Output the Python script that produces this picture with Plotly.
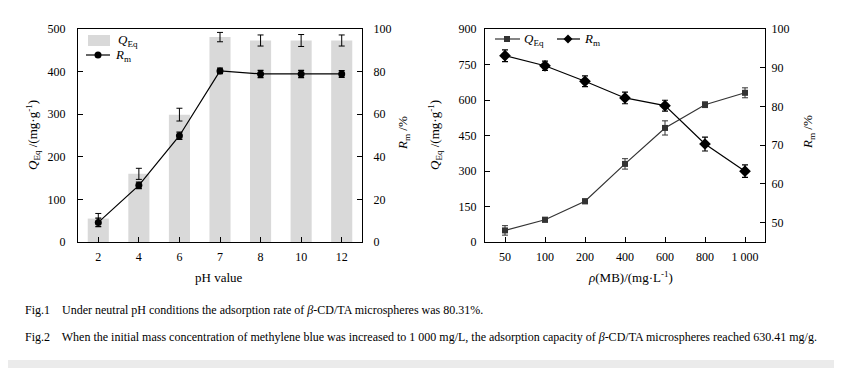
import plotly.graph_objects as go

# ---------------- data ----------------
ph_labels = ["2", "4", "6", "7", "8", "10", "12"]
q_ph = [55, 160, 299, 481, 473, 473, 473]
q_ph_err = [12, 13, 15, 11, 13, 14, 13]
r_ph = [9.2, 26.6, 49.9, 80.31, 78.9, 78.9, 78.9]
r_ph_err = [2.0, 1.5, 1.7, 1.3, 1.7, 1.7, 1.6]

conc_labels = ["50", "100", "200", "400", "600", "800", "1 000"]
q_conc = [49, 94, 172, 330, 482, 580, 630.41]
q_conc_err = [20, 10, 10, 22, 30, 12, 21]
r_conc = [93.1, 90.5, 86.5, 82.2, 80.2, 70.3, 63.3]
r_conc_err = [1.5, 1.2, 1.4, 1.5, 1.4, 1.8, 1.6]

left_y_ticks = [0, 100, 200, 300, 400, 500]
left_y2_ticks = [0, 20, 40, 60, 80, 100]
right_y_ticks = [0, 150, 300, 450, 600, 750, 900]
right_y2_ticks = [50, 60, 70, 80, 90, 100]

q_name = "<i>Q</i><sub>Eq</sub>"
r_name = "<i>R</i><sub>m</sub>"
q_title = "<i>Q</i><sub>Eq</sub> /(mg·g<sup>-1</sup>)"
r_title = "<i>R</i><sub>m</sub> /%"
ph_title = "pH value"
conc_title = "<i>ρ</i>(MB)/(mg·L<sup>-1</sup>)"
caption1 = "Fig.1    Under neutral pH conditions the adsorption rate of <i>β</i>-CD/TA microspheres was 80.31%."
caption2 = ("Fig.2    When the initial mass concentration of methylene blue was increased to 1 000 mg/L, "
            "the adsorption capacity of <i>β</i>-CD/TA microspheres reached 630.41 mg/g.")

# ---------------- layout helpers ----------------
# page has an 8px body margin, so the figure is sized to fill the rest of the window
OFF = 8
W, H = 842 - OFF, 368 - OFF
FONT = "Liberation Serif"


def px(x):
    return (x - OFF) / W


def py(y):
    return 1 - (y - OFF) / H


fig = go.Figure()

# Left chart
fig.add_trace(go.Bar(
    x=ph_labels, y=q_ph, name=q_name,
    marker=dict(color="#d9d9d9", line=dict(width=0)), width=0.52,
    error_y=dict(type="data", array=q_ph_err, color="black", thickness=1, width=3),
    xaxis="x", yaxis="y", showlegend=False))
fig.add_trace(go.Scatter(
    x=ph_labels, y=r_ph, name=r_name, mode="lines+markers",
    line=dict(color="black", width=1.2), marker=dict(symbol="circle", size=7, color="black"),
    error_y=dict(type="data", array=r_ph_err, color="black", thickness=1.2, width=3),
    xaxis="x", yaxis="y2", showlegend=False))

# Right chart
fig.add_trace(go.Scatter(
    x=conc_labels, y=q_conc, name=q_name, mode="lines+markers",
    line=dict(color="#333333", width=1.2), marker=dict(symbol="square", size=6, color="#333333"),
    error_y=dict(type="data", array=q_conc_err, color="#333333", thickness=1, width=3),
    xaxis="x2", yaxis="y3", showlegend=False))
fig.add_trace(go.Scatter(
    x=conc_labels, y=r_conc, name=r_name, mode="lines+markers",
    line=dict(color="black", width=1.2), marker=dict(symbol="diamond", size=9, color="black"),
    error_y=dict(type="data", array=r_conc_err, color="black", thickness=1.2, width=3),
    xaxis="x2", yaxis="y4", showlegend=False))

tickfont = dict(family=FONT, size=12, color="black")
axis_common = dict(showline=True, linecolor="black", linewidth=1, ticks="inside",
                   ticklen=5, tickcolor="black", tickwidth=1, showgrid=False,
                   zeroline=False, tickfont=tickfont)

ydom = [py(242), py(29)]


def ann(text, x, y, size=13, angle=0, xanchor="center"):
    return dict(text=text, xref="paper", yref="paper", x=px(x), y=py(y), xanchor=xanchor,
                yanchor="middle", showarrow=False, textangle=angle,
                font=dict(family=FONT, size=size, color="black"))


def rect(x0, y0, x1, y1, color, layer="below"):
    return dict(type="rect", xref="paper", yref="paper", x0=px(x0), x1=px(x1), y0=py(y1), y1=py(y0),
                fillcolor=color, line=dict(width=0), layer=layer)


def hline(x0, x1, y, color):
    return dict(type="line", xref="paper", yref="paper", x0=px(x0), x1=px(x1), y0=py(y), y1=py(y),
                line=dict(color=color, width=1.2), layer="above")


def diamond(cx, cy, r, color):
    path = "M {},{} L {},{} L {},{} L {},{} Z".format(
        px(cx), py(cy - r), px(cx + r), py(cy), px(cx), py(cy + r), px(cx - r), py(cy))
    return dict(type="path", xref="paper", yref="paper", path=path, fillcolor=color,
                line=dict(width=0), layer="above")


shapes = [
    # page border strips
    rect(837, 0, 842, 368, "#ebebeb"),
    rect(0, 360, 842, 368, "#ebebeb"),
    # legend keys, left chart
    rect(88, 35, 110, 46, "#d9d9d9", layer="above"),
    hline(86, 110, 55, "black"),
    dict(type="circle", xref="paper", yref="paper", x0=px(94.5), x1=px(101.5), y0=py(58.5), y1=py(51.5),
         fillcolor="black", line=dict(width=0), layer="above"),
    # legend keys, right chart
    hline(495, 520, 39, "#333333"),
    rect(504, 36, 510, 42, "#333333", layer="above"),
    hline(557, 580, 39, "black"),
    diamond(568, 39, 4.5, "black"),
]

annotations = [
    ann(q_name, 116, 40, xanchor="left"),
    ann(r_name, 113, 56, xanchor="left"),
    ann(q_name, 522, 39, xanchor="left"),
    ann(r_name, 582, 39, xanchor="left"),
    ann(q_title, 33, 135, angle=-90),
    ann(r_title, 403, 133, angle=-90),
    ann(ph_title, 219, 277),
    ann(q_title, 435, 135, angle=-90),
    ann(r_title, 808, 132, angle=-90),
    ann(conc_title, 630, 277),
    ann(caption1, 23, 310, size=12, xanchor="left"),
    ann(caption2, 23, 337, size=12, xanchor="left"),
]

fig.update_layout(
    width=W, height=H, margin=dict(l=0, r=0, t=0, b=0, pad=0, autoexpand=False),
    paper_bgcolor="white", plot_bgcolor="rgba(0,0,0,0)",
    font=dict(family=FONT, color="black"),
    showlegend=False,
    xaxis=dict(domain=[px(78), px(362)], anchor="y", type="category", range=[-0.5, 6.5],
               mirror=True, ticklabelstandoff=4, **axis_common),
    yaxis=dict(domain=ydom, anchor="x", range=[0, 500], tickvals=left_y_ticks,
               ticklabelstandoff=9, **axis_common),
    yaxis2=dict(domain=ydom, anchor="x", overlaying="y", side="right", range=[0, 100],
                tickvals=left_y2_ticks, ticklabelstandoff=8, **axis_common),
    xaxis2=dict(domain=[px(485), px(765)], anchor="y3", type="category", range=[-0.5, 6.5],
                mirror=True, ticklabelstandoff=4, **axis_common),
    yaxis3=dict(domain=ydom, anchor="x2", range=[0, 900], tickvals=right_y_ticks,
                ticklabelstandoff=5, **axis_common),
    yaxis4=dict(domain=ydom, anchor="x2", overlaying="y3", side="right", range=[45, 100],
                tickvals=right_y2_ticks, ticklabelstandoff=3, **axis_common),
    shapes=shapes,
    annotations=annotations,
)

fig.write_html("out.html")
